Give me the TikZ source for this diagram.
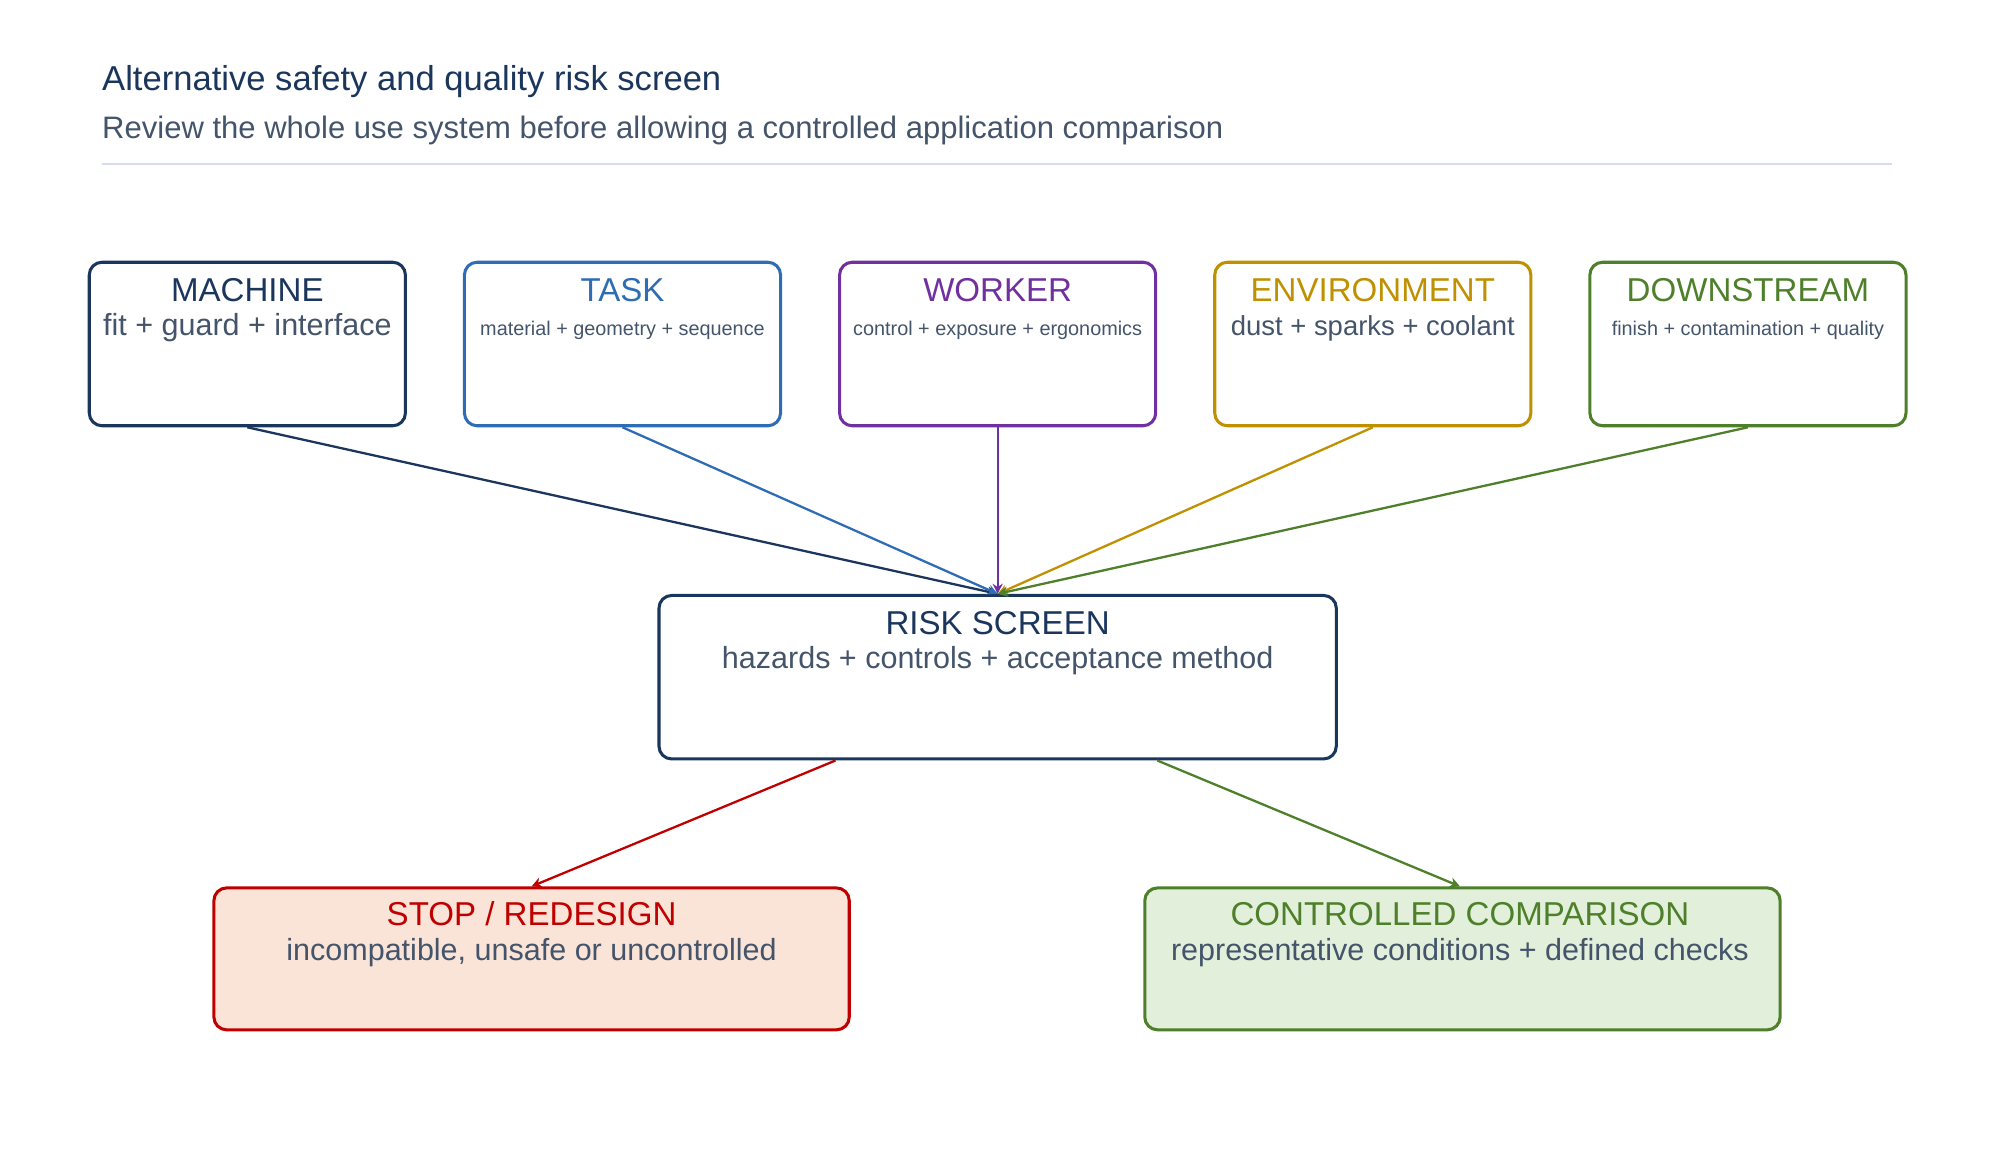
\documentclass[tikz,border=0pt]{standalone}
\usepackage{fontspec}
\setmainfont{Liberation Sans}
\usetikzlibrary{positioning,arrows.meta}
\definecolor{navy}{HTML}{1B365D}
\definecolor{blueT}{HTML}{2E6DB4}
\definecolor{purpleT}{HTML}{7030A0}
\definecolor{goldT}{HTML}{BF9000}
\definecolor{greenT}{HTML}{4E7F2A}
\definecolor{redT}{HTML}{C00000}
\definecolor{greyT}{HTML}{44546A}
\definecolor{redF}{HTML}{FAE3D7}
\definecolor{greenF}{HTML}{E2EFDA}
\definecolor{ruleC}{HTML}{D6DCF0}
\tikzset{main node/.style={rectangle, rounded corners=5pt, draw, line width=1.2pt, minimum width=124.3pt, minimum height=64.3pt},
  head/.style={font=\fontsize{13}{15}\selectfont, anchor=base},
  sub/.style={font=\fontsize{12}{14}\selectfont, text=greyT, anchor=base},
  small/.style={font=\fontsize{7.8}{9}\selectfont, text=greyT, anchor=base},
  link/.style={line width=0.9pt, -{Stealth[length=4pt,width=4pt]}},}
\begin{document}
\begin{tikzpicture}[x=0.5pt,y=-0.5pt]
        \useasboundingbox (0,0) rectangle (1568,912);
        % Title
        \node[anchor=base west, inner sep=0pt, font=\fontsize{13.6}{16}\selectfont, text=navy] (title) at (80,71) {Alternative safety and quality risk screen};
        \node[anchor=base west, inner sep=0pt, font=\fontsize{12.2}{14}\selectfont, text=greyT] (subtitle) at (80,109) {Review the whole use system before allowing a controlled application comparison};
        \draw[ruleC, line width=1pt] (80,129) -- (1488,129);
        % Nodes
        \node[main node, draw=navy] (machine) at (194.5,270.5) {};
        \node[main node, draw=blueT] (task) at (489.5,270.5) {};
        \node[main node, draw=purpleT] (worker) at (784.5,270.5) {};
        \node[main node, draw=goldT] (env) at (1079.5,270.5) {};
        \node[main node, draw=greenT] (down) at (1374.5,270.5) {};
        \node[main node, draw=navy, minimum width=266.3pt] (risk) at (784.5,532.5) {};
        \node[main node, draw=redT, fill=redF, minimum width=249.8pt, minimum height=55.8pt] (stop) at (418,754) {};
        \node[main node, draw=greenT, fill=greenF, minimum width=249.8pt, minimum height=55.8pt] (ctrl) at (1150,754) {};
        % Labels
        \node[head, text=navy] (machineH) at (194.5,237) {MACHINE};
        \node[sub] (machineS) at (194.5,264) {fit + guard + interface};
        \node[head, text=blueT] (taskH) at (489.5,237) {TASK};
        \node[small] (taskS) at (489.5,264) {material + geometry + sequence};
        \node[head, text=purpleT] (workerH) at (784.5,237) {WORKER};
        \node[small] (workerS) at (784.5,264) {control + exposure + ergonomics};
        \node[head, text=goldT] (envH) at (1079.5,237) {ENVIRONMENT};
        \node[sub, font=\fontsize{10.8}{13}\selectfont] (envS) at (1079.5,264) {dust + sparks + coolant};
        \node[head, text=greenT] (downH) at (1374.5,237) {DOWNSTREAM};
        \node[small] (downS) at (1374.5,264) {finish + contamination + quality};
        \node[head, text=navy] (riskH) at (784.5,499) {RISK SCREEN};
        \node[sub] (riskS) at (784.5,526) {hazards + controls + acceptance method};
        \node[head, text=redT] (stopH) at (418,728) {STOP / REDESIGN};
        \node[sub] (stopS) at (418,755) {incompatible, unsafe or uncontrolled};
        \node[head, text=greenT] (ctrlH) at (1148,728) {CONTROLLED COMPARISON};
        \node[sub] (ctrlS) at (1148,755) {representative conditions + defined checks};
        % Paths
        \draw[link, navy] (machine.south) -- (risk.north);
        \draw[link, blueT] (task.south) -- (risk.north);
        \draw[link, purpleT] (worker.south) -- (risk.north);
        \draw[link, goldT] (env.south) -- (risk.north);
        \draw[link, greenT] (down.south) -- (risk.north);
        \draw[link, redT] ([xshift=-63.75pt]risk.south) -- (stop.north);
        \draw[link, greenT] ([xshift=62.75pt]risk.south) -- ([xshift=-1pt]ctrl.north);
\end{tikzpicture}
\end{document}
